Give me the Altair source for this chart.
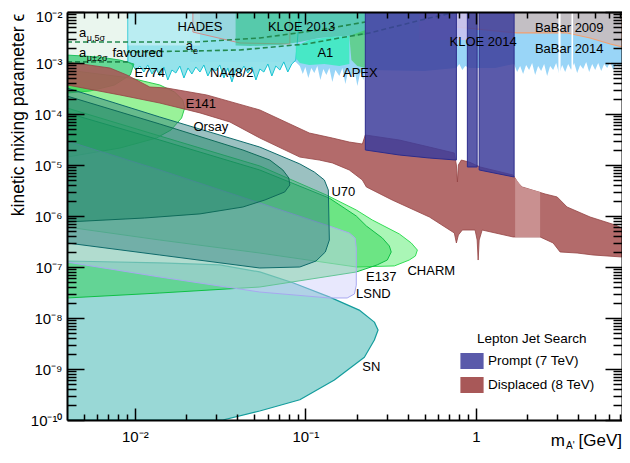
import altair as alt
import pandas as pd

FONT = "Liberation Sans"

# ---------------- axes ----------------
x_major = [0.01, 0.1, 1.0]
x_major_labels = ["10⁻²", "10⁻¹", "1"]
x_minor = [0.005, 0.006, 0.007, 0.008, 0.009,
           0.02, 0.03, 0.04, 0.05, 0.06, 0.07, 0.08, 0.09,
           0.2, 0.3, 0.4, 0.5, 0.6, 0.7, 0.8, 0.9,
           2.0, 3.0, 4.0, 5.0, 6.0, 7.0]
y_major = [1e-10, 1e-9, 1e-8, 1e-7, 1e-6, 1e-5, 1e-4, 1e-3, 1e-2]
y_major_labels = ["10⁻¹⁰", "10⁻⁹", "10⁻⁸", "10⁻⁷", "10⁻⁶", "10⁻⁵", "10⁻⁴", "10⁻³", "10⁻²"]
y_minor_multipliers = [2, 3, 4, 5, 6, 7, 8, 9]

# ---------------- regions (mass GeV, epsilon) ----------------
SN_m = [0.004, 0.014, 0.0315, 0.054, 0.0845, 0.138, 0.207, 0.254, 0.267, 0.254, 0.222, 0.148, 0.0928, 0.054, 0.0328, 0.004]
SN_e = [1.31e-7, 1.2e-7, 1.1e-7, 8.0e-8, 4.9e-8, 2.6e-8, 1.43e-8, 8.3e-9, 5.8e-9, 3.7e-9, 1.7e-9, 6.1e-10, 2.5e-10, 1.5e-10, 1e-10, 1e-10]

LSND_m = [0.004, 0.014, 0.054, 0.138, 0.181, 0.196, 0.199, 0.199, 0.194, 0.176, 0.138, 0.054, 0.014, 0.004]
LSND_e = [2.96e-5, 7.98e-6, 1.8e-6, 6.37e-7, 4.64e-7, 3.7e-7, 2.36e-7, 4.4e-8, 2.96e-8, 2.47e-8, 2.47e-8, 3.23e-8, 6.37e-8, 1.25e-7]

U70_m = [0.004, 0.014, 0.054, 0.0928, 0.1129, 0.1293, 0.1364, 0.1383, 0.131, 0.1155, 0.0928, 0.054, 0.014, 0.004]
U70_e = [3.23e-4, 8.73e-5, 2.25e-5, 1.05e-5, 7.29e-6, 5.08e-6, 3.23e-6, 3.38e-7, 1.97e-7, 1.31e-7, 1.0e-7, 9.56e-8, 1.72e-7, 2.96e-7]

ORSAY_m = [0.004, 0.014, 0.043, 0.0619, 0.0738, 0.080, 0.0811, 0.0757, 0.0579, 0.043, 0.0241, 0.0114, 0.004]
ORSAY_e = [2.25e-4, 6.37e-5, 1.97e-5, 1.25e-5, 7.98e-6, 5.56e-6, 4.05e-6, 2.96e-6, 2.06e-6, 1.5e-6, 1.1e-6, 9.14e-7, 7.63e-7]

CHARM_m = [0.004, 0.014, 0.0541, 0.1329, 0.199, 0.247, 0.356, 0.418, 0.454, 0.442, 0.407, 0.333, 0.199, 0.054, 0.014, 0.004]
CHARM_e = [1.31e-4, 3.71e-5, 9.56e-6, 2.58e-6, 1.31e-6, 8.35e-7, 4.44e-7, 2.96e-7, 2.15e-7, 1.64e-7, 1.37e-7, 1.05e-7, 1.0e-7, 1.88e-7, 3.38e-7, 6.09e-7]

E137_m = [0.004, 0.014, 0.054, 0.138, 0.199, 0.228, 0.283, 0.311, 0.319, 0.3025, 0.264, 0.199, 0.054, 0.014, 0.004]
E137_e = [1.05e-4, 3.09e-5, 7.98e-6, 2.25e-6, 1.0e-6, 6.37e-7, 3.7e-7, 2.58e-7, 1.97e-7, 1.37e-7, 1.1e-7, 7.98e-8, 4.05e-8, 3.09e-8, 2.47e-8]

E774_m = [0.004, 0.00623, 0.00817, 0.00987, 0.0094, 0.0076, 0.00545, 0.004]
E774_e = [1.43e-3, 1.31e-3, 1.14e-3, 9.56e-4, 5.82e-4, 3.71e-4, 2.82e-4, 2.58e-4]

E141_m = [0.004, 0.0094, 0.014, 0.0171, 0.0191, 0.0196, 0.0188, 0.0163, 0.0134, 0.00817, 0.004]
E141_e = [7.29e-4, 5.08e-4, 3.71e-4, 2.7e-4, 1.88e-4, 1.31e-4, 8.35e-5, 4.86e-5, 3.38e-5, 2.15e-5, 1.43e-5]

DISP_m = [0.004, 0.00714, 0.00898, 0.01224, 0.0154, 0.0264, 0.0541, 0.1055, 0.144, 0.181, 0.216, 0.2248,
          0.356, 0.534, 0.748, 0.769, 0.78, 0.79, 0.822, 0.916, 1.06, 1.654, 1.77, 1.868, 2.55, 3.0, 3.43,
          4.68, 6.57, 7.2,
          7.2, 4.87, 3.93, 3.12, 2.84, 2.383, 1.654, 1.089, 1.046, 1.032, 1.018, 0.99, 0.833, 0.79, 0.769,
          0.748, 0.534, 0.323, 0.228, 0.216, 0.181, 0.144, 0.1208, 0.0928, 0.0541, 0.0361, 0.0241, 0.014,
          0.00817, 0.004]
DISP_e = [1.05e-3, 7.98e-4, 5.82e-4, 3.38e-4, 3.23e-4, 2.36e-4, 1.2e-4, 4.24e-5, 3.38e-5, 2.82e-5, 2.58e-5, 3.88e-5,
          3.09e-5, 2.25e-5, 1.72e-5, 1.0e-5, 4.64e-6, 1.0e-5, 1.25e-5, 1.14e-5, 9.14e-6, 6.37e-6, 4.44e-6, 3.71e-6,
          2.7e-6, 2.36e-6, 1.5e-6, 9.56e-7, 6.66e-7, 5.82e-7,
          1.57e-7, 1.72e-7, 1.88e-7, 1.97e-7, 2.96e-7, 3.88e-7, 3.88e-7, 5.31e-7, 3.38e-7, 1.37e-7, 3.38e-7,
          5.31e-7, 5.31e-7, 4.24e-7, 2.96e-7, 4.64e-7, 9.56e-7, 2.06e-6, 3.71e-6, 5.08e-6, 7.98e-6, 1.1e-5,
          1.25e-5, 1.43e-5, 3.38e-5, 6.97e-5, 1.05e-4, 1.64e-4, 2.36e-4, 3.71e-4]
DISP_HATCH_m = [1.70, 1.868, 2.383, 2.383, 1.70]
DISP_HATCH_e = [5.56e-6, 3.71e-6, 2.96e-6, 3.88e-7, 3.88e-7]

PROMPT1_m = [0.2248, 0.769, 0.769, 0.534, 0.356, 0.2248]
PROMPT1_e = [1e-2, 1e-2, 1.25e-5, 1.37e-5, 1.57e-5, 1.97e-5]
PROMPT2_m = [0.892, 1.018, 1.018, 0.892]
PROMPT2_e = [1e-2, 1e-2, 9.14e-6, 9.14e-6]
PROMPT3_m = [1.046, 1.677, 1.677, 1.046]
PROMPT3_e = [1e-2, 1e-2, 5.82e-6, 7.98e-6]

BABAR14_seg1_m = [0.0928, 0.0966, 0.1, 0.1041, 0.1084, 0.1129, 0.1176, 0.1225, 0.1275, 0.1328, 0.1383, 0.144,
                  0.15, 0.1583, 0.1649, 0.1717, 0.1788, 0.1862, 0.1939, 0.2019, 0.2103, 0.219, 0.2248]
BABAR14_seg1_e = [8.73e-4, 6.09e-4, 8.35e-4, 5.08e-4, 7.98e-4, 6.37e-4, 8.73e-4, 4.64e-4, 7.63e-4, 5.82e-4,
                  7.98e-4, 4.24e-4, 7.29e-4, 5.56e-4, 7.98e-4, 3.88e-4, 7.29e-4, 5.32e-4, 7.63e-4, 3.55e-4,
                  6.66e-4, 4.64e-4, 7.29e-4]
BABAR14_seg2_m = [0.769, 0.80, 0.833, 0.867, 0.916]
BABAR14_seg2_e = [7.98e-4, 9.56e-4, 7.29e-4, 8.73e-4, 7.98e-4]
BABAR14_seg3_m = [1.677, 1.746, 1.819, 1.894, 1.972, 2.054, 2.139, 2.228, 2.32, 2.416,
                  2.516, 2.62, 2.728, 2.841, 2.959, 3.081, 3.209, 3.342, 3.48, 3.624,
                  3.774, 3.93, 4.093, 4.262, 4.439, 4.622, 4.814, 5.013, 5.22, 5.437,
                  5.662, 5.896, 6.14, 6.394, 6.659, 6.935, 7.222]
BABAR14_seg3_e = [9.56e-4, 6.66e-4, 8.73e-4, 6.09e-4, 9.14e-4, 7.29e-4, 1.0e-3, 5.82e-4, 8.73e-4, 6.97e-4,
                  9.56e-4, 5.56e-4, 8.73e-4, 7.29e-4, 1.0e-3, 6.09e-4, 9.14e-4, 6.66e-4, 9.56e-4, 7.29e-4,
                  1.0e-3, 6.37e-4, 9.14e-4, 7.63e-4, 1.05e-3, 6.66e-4, 9.56e-4, 7.29e-4, 1.0e-3, 6.97e-4,
                  9.56e-4, 7.98e-4, 1.05e-3, 7.29e-4, 9.56e-4, 8.35e-4, 1.0e-3]
BABAR_VETO1_m = [3.05, 3.14, 3.14, 3.05]
BABAR_VETO1_e = [1e-2, 1e-2, 5.8e-4, 5.8e-4]
BABAR_VETO2_m = [3.64, 3.72, 3.72, 3.64]
BABAR_VETO2_e = [1e-2, 1e-2, 7.0e-4, 7.0e-4]

BABAR09_m = [0.769, 7.222, 7.222, 6.14, 4.68, 3.43, 1.746, 0.769]
BABAR09_e = [1e-2, 1e-2, 2.06e-3, 2.36e-3, 3.09e-3, 3.88e-3, 3.88e-3, 5.08e-3]

KLOE14_m = [0.466, 0.892, 0.892, 0.466]
KLOE14_e = [1e-2, 1e-2, 2.82e-3, 2.82e-3]

NA48_m = [0.0091, 0.0096, 0.01014, 0.0107, 0.0113, 0.0119, 0.0126, 0.0133, 0.014, 0.0148, 0.0156, 0.0165,
          0.0174, 0.01836, 0.0194, 0.0205, 0.0216, 0.0228, 0.0241, 0.0254, 0.0268, 0.0283, 0.0299, 0.0315,
          0.0333, 0.0351, 0.0371, 0.0391, 0.0413, 0.0436, 0.046, 0.0486, 0.0513, 0.0541, 0.0571, 0.0603,
          0.0636, 0.0671, 0.0709, 0.0748, 0.0789, 0.0833, 0.0879]
NA48_e = [1.05e-3, 9.56e-4, 7.29e-4, 8.73e-4, 6.66e-4, 9.14e-4, 6.09e-4, 7.98e-4, 5.56e-4, 8.35e-4,
          4.64e-4, 7.29e-4, 6.37e-4, 8.73e-4, 5.08e-4, 7.98e-4, 6.09e-4, 8.35e-4, 6.66e-4, 9.14e-4,
          5.56e-4, 7.98e-4, 6.97e-4, 9.14e-4, 5.08e-4, 7.98e-4, 4.24e-4, 7.29e-4, 6.09e-4, 8.73e-4,
          6.37e-4, 8.35e-4, 4.64e-4, 7.63e-4, 6.66e-4, 9.56e-4, 5.56e-4, 8.73e-4, 7.29e-4, 1.05e-3,
          6.66e-4, 9.56e-4, 1.14e-3]
NA48_HATCH_m = [0.0091, 0.0241, 0.0241, 0.0091]
NA48_HATCH_e = [1e-2, 1e-2, 2.2e-3, 2.2e-3]

AMU_m = [0.004, 0.0091, 0.0091, 0.004]
AMU_e = [1e-2, 1e-2, 1.05e-3, 1.05e-3]

HADES_m = [0.0219, 0.0219, 0.0413, 0.0811, 0.0811]
HADES_e = [1e-2, 4.05e-3, 2.47e-3, 2.36e-3, 1e-2]

KLOE13_m = [0.039, 0.2248, 0.2248, 0.1694, 0.1208, 0.0928, 0.0709, 0.0473, 0.039]
KLOE13_e = [1e-2, 1e-2, 3.54e-3, 3.38e-3, 3.09e-3, 2.58e-3, 2.25e-3, 2.15e-3, 2.2e-3]

A1_m = [0.0879, 0.1055, 0.1383, 0.1812, 0.1812, 0.1583, 0.1293, 0.1055, 0.0928, 0.0879]
A1_e = [2.15e-3, 2.82e-3, 3.23e-3, 3.38e-3, 9.56e-4, 8.73e-4, 9.56e-4, 9.14e-4, 1.0e-3, 1.25e-3]

APEX_m = [0.1812, 0.2248, 0.2248, 0.2017, 0.1862]
APEX_e = [3.38e-3, 4.44e-3, 7.98e-4, 8.73e-4, 1.14e-3]

AMU5_m = [0.004, 0.0225, 0.0541, 0.1208, 0.2248]
AMU5_e = [2.58e-3, 2.58e-3, 3.09e-3, 4.44e-3, 6.37e-3]
AMU2_m = [0.004, 0.0091]
AMU2_e = [1.05e-3, 1.05e-3]
AE_m = [0.00898, 0.0219, 0.0413, 0.1014, 0.1583, 0.2374, 0.534, 0.769]
AE_e = [1.64e-3, 1.72e-3, 1.8e-3, 2.36e-3, 3.09e-3, 3.88e-3, 7.63e-3, 1e-2]

center_labels = ["HADES", "KLOE 2013", "BaBar 2009", "BaBar 2014", "KLOE 2014", "favoured", "E774",
                 "NA48/2", "A1", "APEX", "E141", "Orsay", "U70", "E137", "LSND", "CHARM", "SN"]
center_m = [0.0241, 0.095, 3.53, 3.53, 1.104, 0.0104, 0.01224, 0.037, 0.131, 0.2102, 0.0244, 0.0279,
            0.167, 0.279, 0.2506, 0.548, 0.2438]
center_e = [4.97e-3, 4.97e-3, 4.86e-3, 1.88e-3, 2.58e-3, 1.57e-3, 6.37e-4, 6.37e-4, 1.57e-3, 6.37e-4,
            1.57e-4, 5.56e-5, 2.96e-6, 6.37e-8, 2.96e-8, 8.35e-8, 1.1e-9]
left_labels = ["a", "μ,5σ", "a", "μ±2σ", "a", "e"]
left_m = [0.0047, 0.00523, 0.0047, 0.00523, 0.0199, 0.0219]
left_e = [3.88e-3, 3.09e-3, 1.57e-3, 1.25e-3, 2.15e-3, 1.72e-3]
left_fs = [13, 9, 13, 9, 13, 9]

series_names = ["Prompt (7 TeV)", "Displaced (8 TeV)"]
series_colors = ["#5a5aaa", "#a85858"]

# ---------------- helpers ----------------
XS = alt.Scale(type="log", domain=[0.004, 7.2], nice=False)
YS = alt.Scale(type="log", domain=[1e-10, 1e-2], nice=False)


def poly(ms, es, fill, fill_op=1.0, stroke=None, sw=1.0):
    df = pd.DataFrame({"m": ms, "e": es, "i": list(range(len(ms)))})
    kw = dict(fill=fill, fillOpacity=fill_op, interpolate="linear-closed", clip=True, strokeJoin="round")
    if stroke:
        kw.update(stroke=stroke, strokeWidth=sw)
    else:
        kw.update(stroke=fill, strokeWidth=0, strokeOpacity=0)
    return alt.Chart(df).mark_line(**kw).encode(
        x=alt.X("m:Q", scale=XS, axis=None),
        y=alt.Y("e:Q", scale=YS, axis=None),
        order=alt.Order("i:Q"),
    )


def dashed(ms, es):
    df = pd.DataFrame({"m": ms, "e": es, "i": list(range(len(ms)))})
    return alt.Chart(df).mark_line(stroke="#23894f", strokeWidth=1.6, strokeDash=[5, 3], clip=True).encode(
        x=alt.X("m:Q", scale=XS, axis=None),
        y=alt.Y("e:Q", scale=YS, axis=None),
        order=alt.Order("i:Q"),
    )


def label_expr(values, labels):
    parts = [f"datum.value < {v * 1.5:.3g} ? '{l}' : " for v, l in zip(values[:-1], labels[:-1])]
    return "".join(parts) + f"'{labels[-1]}'"


y_minor = [k * d for d in y_major[:-1] for k in y_minor_multipliers]

dummy = pd.DataFrame({"m": [0.01], "e": [1e-5], "s": [series_names[0]]})
base = dict(grid=False, title=None, zindex=1)


def tick_axis(orient, values, size):
    return alt.Axis(orient=orient, values=values, labels=False, domain=False, ticks=True,
                    tickSize=size, tickWidth=1.5, tickColor="black", offset=-size, **base)


def frame_axis(orient):
    return alt.Axis(orient=orient, labels=False, ticks=False, domain=True,
                    domainColor="black", domainWidth=2, **base)


x_lab = alt.Axis(orient="bottom", values=x_major, labelExpr=label_expr(x_major, x_major_labels),
                 ticks=False, domain=True, domainColor="black", domainWidth=2,
                 labelFont=FONT, labelFontSize=15, labelColor="black", labelPadding=9,
                 labelOverlap=False, labelFlush=False, **base)
y_lab = alt.Axis(orient="left", values=y_major, labelExpr=label_expr(y_major, y_major_labels),
                 ticks=False, domain=True, domainColor="black", domainWidth=2,
                 labelFont=FONT, labelFontSize=15, labelColor="black", labelPadding=5,
                 labelOverlap=False, labelFlush=False,
                 labelOffset={"condition": {"test": "datum.value > 0.005", "value": 4}, "value": 0},
                 **base)


def axis_layer(xa, ya):
    return alt.Chart(dummy).transform_filter("false").mark_point(opacity=0).encode(
        x=alt.X("m:Q", scale=XS, axis=xa), y=alt.Y("e:Q", scale=YS, axis=ya))


axis_layers = [
    axis_layer(x_lab, y_lab),
    axis_layer(tick_axis("bottom", x_major, 12), tick_axis("left", y_major, 17)),
    axis_layer(tick_axis("bottom", x_minor, 6), tick_axis("left", y_minor, 9)),
    axis_layer(frame_axis("top"), frame_axis("right")),
    axis_layer(tick_axis("top", x_major, 12), tick_axis("right", y_major, 17)),
    axis_layer(tick_axis("top", x_minor, 6), tick_axis("right", y_minor, 9)),
]

legend_layer = alt.Chart(dummy).transform_filter("false").mark_point(filled=True, opacity=1).encode(
    x=alt.X("m:Q", scale=XS, axis=None),
    y=alt.Y("e:Q", scale=YS, axis=None),
    color=alt.Color("s:N", scale=alt.Scale(domain=series_names, range=series_colors),
                    legend=alt.Legend(title=None, orient="none", legendX=397, legendY=341,
                                      symbolType="M-1.45,-1H1.45V1H-1.45Z", symbolSize=256,
                                      symbolOpacity=1, symbolStrokeWidth=0,
                                      labelFont=FONT, labelFontSize=13.5, labelColor="black",
                                      labelOffset=8, rowPadding=8, padding=0)),
)

cdf = pd.DataFrame({"t": center_labels, "m": center_m, "e": center_e})
center_text = alt.Chart(cdf).mark_text(font=FONT, fontSize=13, color="black", align="center",
                                       baseline="middle").encode(
    x=alt.X("m:Q", scale=XS, axis=None), y=alt.Y("e:Q", scale=YS, axis=None), text="t:N")
ldf = pd.DataFrame({"t": left_labels, "m": left_m, "e": left_e, "fs": left_fs})
left_text = alt.Chart(ldf).mark_text(font=FONT, color="black", align="left", baseline="middle").encode(
    x=alt.X("m:Q", scale=XS, axis=None), y=alt.Y("e:Q", scale=YS, axis=None), text="t:N",
    size=alt.Size("fs:Q", scale=None, legend=None))


def guide_text(txt, x, y, fs, align="left", angle=0, baseline="alphabetic"):
    kw = dict(font=FONT, fontSize=fs, color="black", align=align, baseline=baseline)
    if angle:
        kw["angle"] = angle
    return alt.Chart(pd.DataFrame({"t": [txt]})).mark_text(**kw).encode(
        x=alt.value(x), y=alt.value(y), text="t:N")


guides = [
    guide_text("kinetic mixing parameter ϵ", -48, 103, 17.5, align="center", angle=270, baseline="middle"),
    guide_text("m", 498, 434, 17, align="right"),
    guide_text("A'", 499, 437, 10, align="left"),
    guide_text("[GeV]", 555, 434, 17, align="right"),
    guide_text("Lepton Jet Search", 410, 331, 13.5, align="left"),
]

layers = [
    poly(AMU_m, AMU_e, "#eaf6ee", 1.0),
    poly([0.021, 0.021, 0.0879] + BABAR14_seg1_m + [0.5] + BABAR14_seg2_m + [1.3] + BABAR14_seg3_m + [7.222],
         [1e-2, 1.05e-3, 1.05e-3] + BABAR14_seg1_e + [7e-4] + BABAR14_seg2_e + [8e-4] + BABAR14_seg3_e + [1e-2],
         "#99d5f7", 1.0),
    poly(BABAR09_m, BABAR09_e, "#c3bfc4", 1.0, "#f2a070", 1.2),
    poly(BABAR_VETO1_m, BABAR_VETO1_e, "#ffffff", 1.0),
    poly(BABAR_VETO2_m, BABAR_VETO2_e, "#ffffff", 1.0),
    poly(KLOE14_m, KLOE14_e, "#c9c2ef", 0.9),
    poly([0.0091] + NA48_m + [0.0928], [1e-2] + NA48_e + [1e-2], "#8fe2ea", 0.95, "#18c4d2", 1.0),
    poly(NA48_HATCH_m, NA48_HATCH_e, "#ffffff", 0.35),
    poly(HADES_m, HADES_e, "#a8c0c4", 0.3, "#d08c8c", 1.0),
    poly(KLOE13_m, KLOE13_e, "#20c080", 0.55),
    poly(A1_m, A1_e, "#3eeac0", 0.9),
    poly(APEX_m, APEX_e, "#40cc50", 0.6),
    poly(SN_m, SN_e, "#99d8d6", 1.0, "#139c9c", 1.2),
    poly(E774_m, E774_e, "#00c050", 0.6, "#20c060", 1.0),
    poly(E141_m, E141_e, "#33e633", 0.5, "#2ecc50", 1.0),
    poly(CHARM_m, CHARM_e, "#55ee6e", 0.5, "#33dd55", 1.0),
    poly(E137_m, E137_e, "#22d048", 0.45, "#0fbf45", 1.0),
    poly(LSND_m, LSND_e, "#cdcdfa", 0.45, "#a8a8f0", 1.0),
    poly(U70_m, U70_e, "#2e7d7d", 0.48, "#0e6b6b", 1.0),
    poly(ORSAY_m, ORSAY_e, "#12805e", 0.45, "#0e6b5a", 1.0),
    poly(DISP_m, DISP_e, "#a85656", 0.88, "#944444", 0.8),
    poly(DISP_HATCH_m, DISP_HATCH_e, "#c99090", 1.0),
    dashed(AMU5_m, AMU5_e),
    dashed(AMU2_m, AMU2_e),
    dashed(AE_m, AE_e),
    poly(PROMPT1_m, PROMPT1_e, "#3d3d9b", 0.85, "#2c2c8c", 1.0),
    poly(PROMPT2_m, PROMPT2_e, "#3d3d9b", 0.85, "#2c2c8c", 1.0),
    poly(PROMPT3_m, PROMPT3_e, "#3d3d9b", 0.85, "#2c2c8c", 1.0),
    center_text,
    left_text,
    legend_layer,
] + guides + axis_layers

chart = alt.layer(*layers).properties(
    width=555, height=408,
    autosize=alt.AutoSizeParams(type="none"),
    padding={"left": 59, "top": 4, "right": 0, "bottom": 31},
    background="white",
).configure_view(strokeWidth=0)

chart.save("out.html", embed_options={"renderer": "svg", "actions": False})
